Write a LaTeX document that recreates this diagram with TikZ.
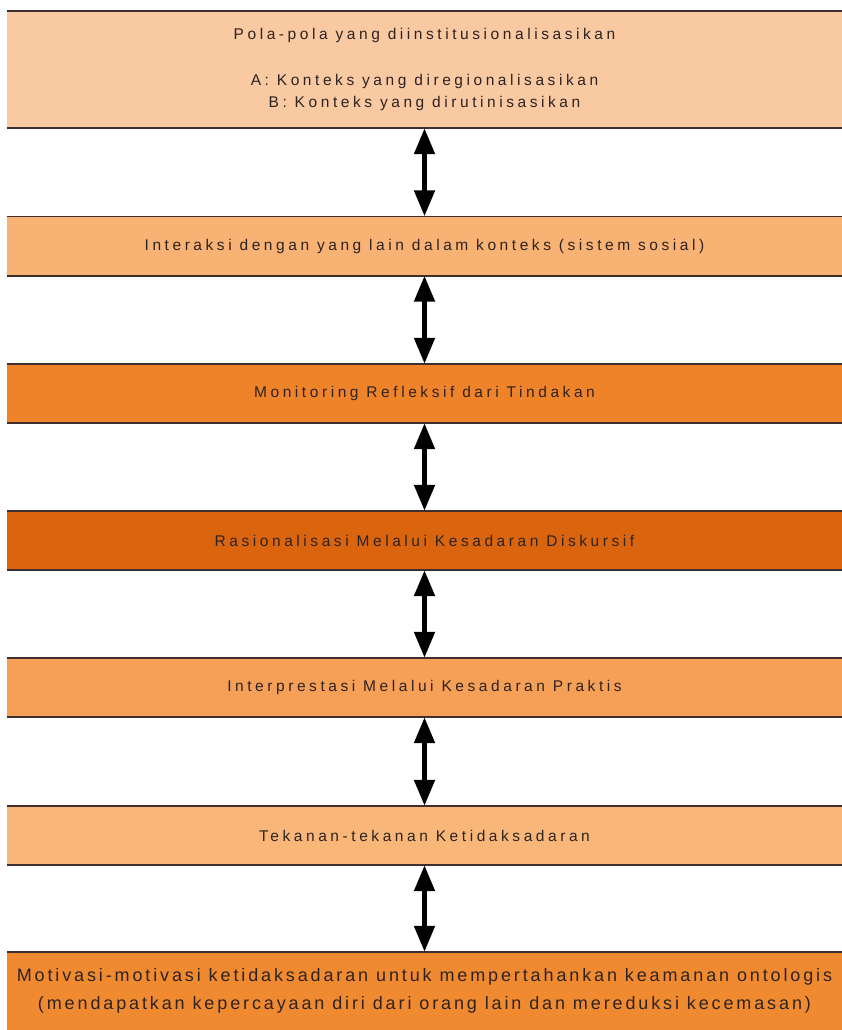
\documentclass[tikz,border=0pt]{standalone}
\usepackage{fontspec}
\setmainfont{Liberation Sans}
\usetikzlibrary{arrows.meta}

\definecolor{pola}{RGB}{249,201,162}
\definecolor{interaksi}{RGB}{248,178,115}
\definecolor{monitoring}{RGB}{239,131,42}
\definecolor{rasional}{RGB}{218,101,14}
\definecolor{praktis}{RGB}{245,160,86}
\definecolor{tekanan}{RGB}{248,183,121}
\definecolor{motivasi}{RGB}{240,138,48}
\definecolor{rimdark}{RGB}{62,46,46}
\definecolor{textdark}{RGB}{45,35,35}

\tikzset{
  band/.style={fill=#1, minimum width=835pt, minimum height=59pt, inner sep=0pt,
    text=textdark, align=center,
    font=\fontsize{15.5}{22}\selectfont\addfontfeature{LetterSpace=23}},
  rim/.style={draw=rimdark, line width=1.6pt},
  twoway/.style={{Triangle[length=26pt,width=20pt]}-{Triangle[length=26pt,width=20pt]},
    line width=5pt, draw=black}
}

\begin{document}
\begin{tikzpicture}[x=1pt,y=-1pt]
\clip (0,0) rectangle (842,1030);
\fill[white] (0,0) rectangle (842,1030);
% the seven bands
\node[band=pola, minimum height=117pt] (b1) at (424.5,69.5)
  {Pola-pola yang diinstitusionalisasikan\\[24pt]A: Konteks yang diregionalisasikan\\B: Konteks yang dirutinisasikan};
\node[band=interaksi] (b2) at (424.5,246) {Interaksi dengan yang lain dalam konteks (sistem sosial)};
\node[band=monitoring] (b3) at (424.5,393.5) {Monitoring Refleksif dari Tindakan};
\node[band=rasional] (b4) at (424.5,540.5) {Rasionalisasi Melalui Kesadaran Diskursif};
\node[band=praktis] (b5) at (424.5,687.5) {Interprestasi Melalui Kesadaran Praktis};
\node[band=tekanan] (b6) at (424.5,835.5) {Tekanan-tekanan Ketidaksadaran};
\node[band=motivasi, minimum height=78pt,
  font=\fontsize{18}{28}\selectfont\addfontfeature{LetterSpace=16}] (b7) at (424.5,991)
  {Motivasi-motivasi ketidaksadaran untuk mempertahankan keamanan ontologis\\(mendapatkan kepercayaan diri dari orang lain dan mereduksi kecemasan)};
% rims
\foreach \b in {b1,b2,b3,b4,b5,b6}{
  \draw[rim] (\b.north west) -- (\b.north east);
  \draw[rim] (\b.south west) -- (\b.south east);
}
\draw[rim] (b7.north west) -- (b7.north east);
% arrows
\draw[twoway] (b1) -- (b2);
\draw[twoway] (b2) -- (b3);
\draw[twoway] (b3) -- (b4);
\draw[twoway] (b4) -- (b5);
\draw[twoway] (b5) -- (b6);
\draw[twoway] (b6) -- (b7);
\end{tikzpicture}
\end{document}
